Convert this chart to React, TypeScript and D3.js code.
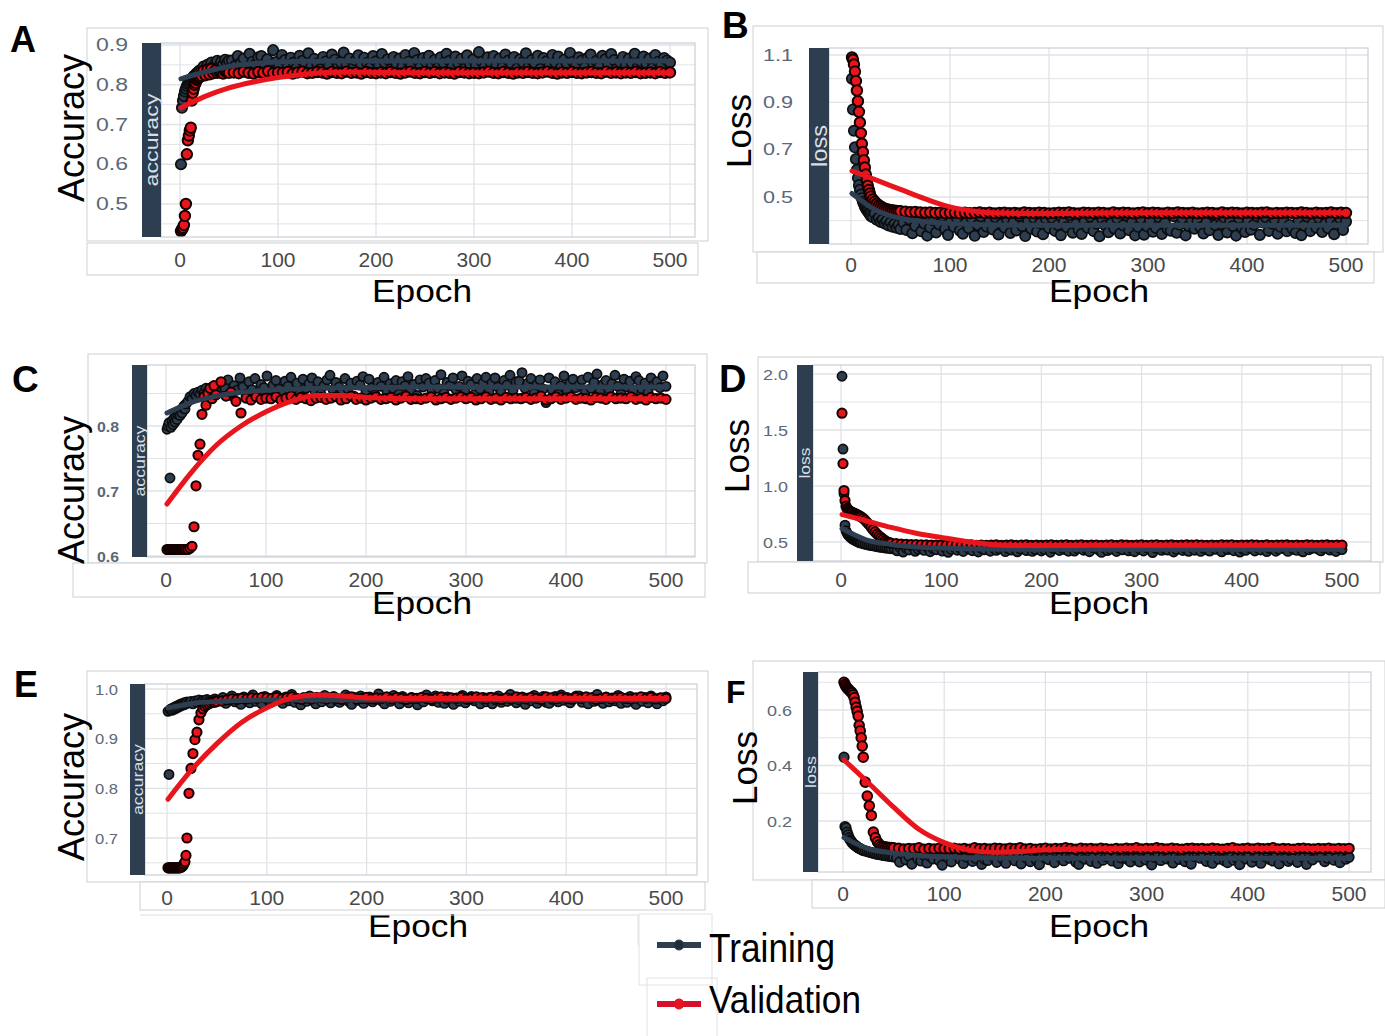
import * as d3 from 'd3'

// epochs: every epoch at first, then every 2nd; later training is logged every 3rd, validation every 5th
const earlyEpochs = [...d3.range(1, 21), ...d3.range(22, 51, 2)]
const trainEpochs = [...earlyEpochs, ...d3.range(53, 501, 3)]
const valEpochs = [...earlyEpochs, ...d3.range(55, 501, 5)]
const trendEpochs = [1, 25, 50, 75, 100, 125, 150, 175, 200, 250, 300, 400, 500]

// ---- A: accuracy ----
const trainAccA = [
  .600, .742, .760, .772, .783, .790, .797, .802, .806, .810, .812, .815, .818, .821, .824, .826, .829, .831, .833, .836,
  .838, .846, .835, .850, .842, .856, .845, .852, .860, .848, .858, .851, .863, .855, .861,
  .861, .847, .872, .855, .866, .843, .878, .858, .851, .869,
  .872, .853, .864, .840, .887, .857, .849, .875, .862, .845,
  .868, .856, .842, .873, .860, .851, .879, .846, .865, .854,
  .839, .870, .859, .848, .876, .863, .844, .857, .881, .852,
  .866, .841, .861, .874, .850, .868, .855, .843, .872, .859,
  .847, .877, .856, .864, .839, .870, .853, .866, .845, .875,
  .858, .849, .880, .862, .844, .867, .857, .873, .851, .863,
  .842, .869, .855, .878, .860, .846, .871, .854, .865, .840,
  .874, .852, .863, .848, .882, .858, .845, .869, .856, .872,
  .850, .866, .843, .876, .861, .853, .870, .841, .864, .857,
  .879, .846, .862, .855, .873, .840, .867, .859, .848, .875,
  .856, .871, .844, .863, .852, .880, .858, .847, .869, .861,
  .843, .868, .876, .851, .860, .845, .873, .864, .850, .877,
  .862, .841, .857, .870, .849, .866, .855, .878, .844, .859,
  .871, .853, .866, .842, .875, .858, .848, .867, .861, .856,
]
const valAccA = [
  .432, .436, .440, .447, .470, .500, .625, .660, .672, .685, .692, .760, .780, .790, .800, .805, .812, .815, .818, .820,
  .822, .835, .824, .838, .826, .840, .829, .836, .830, .833, .831, .828, .834, .832, .830,
  .831, .829, .833, .830, .828, .832, .830, .834, .829, .831,
  .830, .832, .828, .831, .833, .829, .830, .832, .831, .828,
  .832, .830, .829, .833, .830, .831, .828, .832, .830, .829,
  .831, .829, .832, .830, .828, .831, .833, .830, .829, .832,
  .830, .832, .829, .831, .830, .828, .832, .831, .829, .830,
  .829, .831, .833, .830, .829, .832, .830, .828, .831, .830,
  .832, .830, .829, .831, .833, .830, .828, .831, .830, .832,
  .830, .829, .831, .832, .830, .829, .833, .830, .831, .829,
  .831, .830, .832, .829, .830, .831, .829, .832, .830, .831,
]
const trainTrendA = [.815, .832, .846, .853, .857, .859, .860, .860, .860, .860, .860, .860, .860]
const valTrendA = [.742, .770, .792, .807, .818, .826, .831, .832, .831, .830, .830, .830, .830]

// ---- B: loss ----
const trainLossB = [
  1.000, .870, .780, .710, .660, .615, .580, .550, .530, .510, .495, .480, .470, .460, .452, .445, .440, .432, .428, .420,
  .415, .430, .404, .412, .395, .405, .388, .398, .380, .392, .374, .386, .370, .382, .365,
  .392, .361, .405, .347, .378, .416, .355, .388, .337, .371,
  .402, .350, .384, .421, .365, .340, .397, .374, .412, .358,
  .345, .390, .368, .409, .336, .381, .418, .352, .375, .399,
  .363, .414, .342, .386, .371, .404, .348, .393, .359, .420,
  .377, .335, .400, .366, .411, .354, .389, .343, .408, .369,
  .413, .357, .382, .339, .396, .373, .423, .349, .385, .362,
  .344, .398, .370, .417, .356, .387, .334, .406, .379, .351,
  .390, .367, .410, .346, .380, .422, .360, .395, .338, .374,
  .408, .341, .376, .401, .353, .369, .415, .344, .391, .364,
  .358, .419, .349, .383, .407, .338, .378, .403, .366, .397,
  .372, .346, .394, .360, .424, .381, .340, .386, .413, .350,
  .399, .377, .337, .411, .368, .352, .400, .362, .383, .419,
  .340, .392, .415, .357, .388, .405, .345, .374, .399, .355,
  .382, .365, .348, .403, .339, .379, .417, .356, .392, .370,
  .411, .352, .387, .368, .401, .343, .385, .409, .361, .396,
]
const valLossB = [
  1.090, 1.080, 1.060, 1.030, .990, .950, .905, .860, .815, .770, .725, .690, .655, .625, .595, .570, .548, .530, .515, .502,
  .490, .480, .472, .465, .460, .455, .451, .448, .446, .444, .443, .442, .441, .440, .440,
  .438, .436, .437, .435, .434, .435, .433, .434, .432, .433,
  .433, .431, .434, .432, .433, .435, .432, .434, .431, .433,
  .434, .432, .433, .431, .435, .433, .432, .434, .433, .431,
  .432, .434, .433, .435, .432, .431, .434, .433, .432, .434,
  .433, .431, .435, .432, .434, .433, .431, .433, .435, .432,
  .434, .433, .431, .434, .432, .435, .433, .432, .434, .431,
  .432, .434, .433, .431, .435, .432, .434, .433, .431, .434,
  .433, .432, .434, .435, .431, .433, .432, .434, .433, .432,
  .435, .433, .431, .434, .432, .433, .435, .432, .434, .433,
]
const trainTrendB = [.515, .445, .410, .395, .388, .384, .382, .381, .381, .381, .381, .381, .381]
const valTrendB = [.610, .572, .532, .492, .458, .440, .432, .430, .430, .432, .433, .433, .433]

// ---- C: accuracy ----
const trainAccC = [
  .795, .800, .805, .720, .798, .808, .802, .812, .806, .815, .810, .818, .822, .816, .825, .820, .828, .831, .826, .834,
  .838, .845, .842, .850, .847, .852, .849, .855, .851, .858, .853, .856, .860, .854, .858,
  .852, .866, .858, .871, .847, .862, .855, .874, .860, .849,
  .868, .856, .873, .851, .864, .859, .877, .846, .863, .870,
  .857, .848, .869, .861, .875, .853, .866, .850, .872, .858,
  .865, .874, .854, .868, .849, .862, .871, .878, .856, .867,
  .860, .851, .873, .857, .866, .846, .869, .863, .876, .854,
  .872, .859, .848, .867, .861, .875, .853, .865, .858, .870,
  .849, .868, .862, .876, .855, .864, .847, .871, .860, .873,
  .866, .854, .870, .858, .879, .850, .867, .862, .874, .856,
  .861, .877, .852, .869, .864, .848, .873, .857, .866, .875,
  .853, .866, .874, .860, .851, .870, .863, .878, .855, .868,
  .869, .882, .858, .866, .873, .850, .864, .871, .857, .836,
  .874, .856, .868, .849, .862, .877, .855, .866, .872, .859,
  .863, .871, .851, .875, .858, .867, .880, .853, .864, .870,
  .856, .865, .878, .861, .849, .872, .860, .869, .854, .876,
  .870, .857, .866, .852, .874, .863, .868, .859, .877, .861,
]
const valAccC = [
  .610, .610, .610, .610, .610, .610, .610, .610, .610, .610, .610, .610, .610, .610, .610, .610, .610, .610, .610, .610,
  .610, .612, .615, .645, .708, .755, .772, .818, .845, .832, .850, .858, .842, .862, .848,
  .868, .846, .852, .838, .820, .843, .840, .845, .841, .843,
  .842, .845, .840, .843, .846, .841, .844, .842, .839, .843,
  .844, .841, .843, .845, .840, .842, .846, .841, .843, .840,
  .843, .845, .841, .842, .844, .840, .843, .846, .841, .842,
  .841, .843, .845, .840, .842, .844, .841, .843, .845, .842,
  .844, .840, .842, .845, .841, .843, .840, .844, .842, .843,
  .842, .844, .841, .843, .846, .840, .842, .845, .841, .843,
  .845, .841, .843, .842, .840, .844, .843, .841, .845, .842,
  .843, .842, .845, .841, .843, .840, .844, .842, .843, .841,
]
const trainTrendC = [.820, .836, .846, .852, .855, .857, .858, .859, .859, .860, .860, .860, .860]
const valTrendC = [.680, .728, .770, .800, .822, .838, .847, .847, .844, .842, .842, .842, .842]

// ---- D: loss ----
const trainLossD = [
  1.980, 1.330, .930, .650, .600, .580, .565, .555, .545, .538, .530, .524, .520, .515, .510, .505, .500, .497, .494, .490,
  .485, .480, .476, .472, .468, .465, .462, .458, .456, .452, .450, .447, .445, .443, .440,
  .438, .421, .452, .410, .444, .429, .461, .417, .435, .448,
  .425, .457, .413, .440, .431, .464, .419, .446, .408, .433,
  .451, .427, .442, .415, .459, .436, .422, .449, .411, .443,
  .430, .462, .418, .447, .426, .439, .455, .414, .441, .428,
  .445, .412, .437, .458, .423, .450, .416, .432, .463, .420,
  .434, .453, .409, .441, .466, .424, .446, .431, .418, .456,
  .419, .440, .460, .427, .437, .413, .452, .444, .429, .407,
  .448, .423, .436, .462, .415, .443, .430, .457, .421, .439,
  .413, .455, .433, .420, .449, .438, .406, .445, .460, .426,
  .442, .428, .451, .411, .434, .465, .424, .439, .417, .450,
  .427, .461, .416, .444, .430, .419, .454, .435, .447, .412,
  .456, .432, .443, .422, .458, .410, .437, .426, .452, .440,
  .420, .447, .429, .463, .414, .441, .450, .418, .436, .459,
  .439, .416, .455, .433, .425, .448, .412, .457, .431, .444,
  .452, .436, .421, .446, .460, .428, .443, .415, .449, .432,
]
const valLossD = [
  1.650, 1.200, .960, .870, .820, .800, .790, .782, .775, .770, .765, .760, .757, .752, .748, .744, .740, .735, .730, .725,
  .712, .695, .675, .655, .632, .610, .590, .570, .555, .540, .525, .512, .502, .495, .490,
  .486, .482, .479, .477, .476, .474, .474, .473, .472, .473,
  .471, .474, .472, .470, .473, .475, .471, .473, .470, .472,
  .474, .471, .473, .475, .470, .472, .474, .471, .473, .470,
  .472, .474, .470, .473, .475, .471, .472, .474, .470, .473,
  .473, .470, .472, .474, .471, .475, .473, .470, .472, .474,
  .471, .473, .475, .470, .472, .474, .471, .473, .475, .472,
  .474, .472, .470, .473, .471, .474, .472, .475, .470, .473,
  .472, .475, .473, .471, .474, .470, .473, .472, .474, .471,
  .473, .471, .474, .472, .470, .473, .475, .471, .473, .472,
]
const trainTrendD = [.620, .520, .478, .456, .446, .440, .437, .436, .436, .436, .436, .436, .436]
const valTrendD = [.745, .690, .630, .578, .540, .505, .478, .468, .468, .470, .472, .472, .472]

// ---- E: accuracy ----
const trainAccE = [
  .955, .828, .958, .960, .957, .962, .959, .964, .961, .966, .963, .968, .965, .970, .967, .971, .968, .973, .970, .974,
  .972, .975, .970, .976, .973, .978, .974, .977, .975, .979, .976, .974, .978, .980, .977,
  .976, .983, .971, .979, .986, .974, .981, .969, .984, .977,
  .972, .988, .975, .980, .970, .985, .978, .973, .982, .987,
  .979, .971, .984, .976, .989, .973, .980, .968, .983, .975,
  .986, .977, .970, .982, .974, .987, .979, .972, .985, .976,
  .973, .981, .988, .975, .969, .983, .977, .986, .971, .980,
  .984, .974, .979, .990, .976, .970, .982, .975, .987, .978,
  .970, .985, .977, .972, .983, .979, .968, .981, .974, .988,
  .981, .976, .986, .973, .980, .971, .984, .977, .969, .982,
  .975, .987, .972, .979, .985, .976, .982, .970, .983, .974,
  .983, .970, .978, .986, .973, .981, .975, .989, .977, .972,
  .978, .984, .969, .982, .976, .987, .971, .980, .985, .973,
  .971, .979, .985, .974, .988, .977, .983, .972, .979, .986,
  .986, .973, .980, .970, .982, .975, .989, .976, .971, .984,
  .974, .982, .976, .987, .971, .980, .973, .985, .978, .969,
  .980, .975, .983, .972, .986, .978, .970, .982, .976, .984,
]
const valAccE = [
  .640, .640, .640, .640, .640, .640, .640, .640, .640, .640, .640, .640, .640, .641, .642, .644, .648, .652, .665, .700,
  .790, .840, .870, .898, .913, .938, .952, .960, .965, .968, .970, .972, .974, .973, .975,
  .976, .978, .980, .979, .981, .980, .982, .981, .983, .982,
  .981, .983, .980, .982, .984, .981, .979, .982, .980, .983,
  .982, .980, .983, .981, .979, .982, .984, .980, .981, .983,
  .980, .982, .981, .984, .980, .983, .981, .979, .982, .981,
  .983, .981, .979, .982, .984, .980, .982, .981, .983, .980,
  .981, .984, .982, .980, .983, .981, .979, .982, .980, .984,
  .982, .980, .983, .981, .979, .984, .982, .980, .983, .981,
  .980, .983, .981, .984, .982, .979, .981, .983, .980, .982,
  .983, .981, .980, .982, .984, .981, .983, .980, .982, .981,
]
const trainTrendE = [.962, .971, .975, .977, .978, .978, .978, .978, .978, .978, .978, .978, .978]
const valTrendE = [.778, .838, .890, .933, .962, .982, .988, .986, .982, .981, .981, .981, .981]

// ---- F: loss ----
const trainLossF = [
  .430, .180, .175, .160, .150, .140, .132, .128, .122, .118, .115, .112, .110, .106, .104, .102, .100, .098, .096, .094,
  .092, .090, .088, .086, .084, .082, .080, .079, .078, .076, .075, .074, .073, .072, .071,
  .068, .052, .081, .060, .074, .045, .089, .063, .056, .077,
  .049, .072, .064, .086, .058, .041, .079, .067, .053, .083,
  .075, .061, .047, .070, .092, .055, .066, .080, .044, .062,
  .058, .085, .069, .051, .076, .063, .048, .088, .071, .057,
  .082, .046, .073, .065, .054, .090, .060, .043, .078, .067,
  .061, .079, .050, .084, .069, .057, .074, .066, .087, .052,
  .044, .070, .063, .091, .055, .076, .048, .081, .059, .072,
  .078, .056, .086, .047, .067, .083, .062, .053, .075, .065,
  .053, .088, .060, .072, .042, .069, .085, .058, .080, .064,
  .071, .049, .077, .062, .089, .054, .067, .045, .073, .086,
  .066, .082, .055, .070, .048, .079, .063, .092, .057, .050,
  .087, .059, .068, .043, .075, .064, .084, .052, .069, .078,
  .048, .073, .090, .061, .056, .081, .046, .074, .065, .055,
  .062, .085, .051, .077, .068, .044, .079, .060, .088, .071,
  .076, .054, .066, .083, .059, .072, .050, .086, .063, .069,
]
const valLossF = [
  .700, .692, .685, .680, .676, .672, .668, .665, .662, .655, .645, .628, .610, .595, .578, .545, .525, .500, .470, .430,
  .340, .290, .255, .220, .160, .140, .125, .115, .110, .108, .106, .105, .104, .104, .103,
  .102, .099, .101, .100, .103, .098, .101, .099, .102, .100,
  .100, .102, .099, .101, .098, .103, .100, .101, .099, .102,
  .101, .099, .102, .100, .103, .099, .101, .098, .100, .102,
  .099, .101, .100, .103, .101, .098, .102, .100, .101, .099,
  .102, .100, .098, .101, .099, .102, .100, .103, .099, .101,
  .100, .103, .101, .099, .102, .100, .098, .101, .102, .100,
  .101, .099, .102, .100, .098, .101, .103, .099, .100, .102,
  .099, .102, .100, .101, .103, .099, .101, .100, .098, .101,
  .102, .100, .099, .101, .100, .102, .099, .101, .100, .101,
]
const trainTrendF = [.140, .100, .085, .076, .071, .068, .067, .066, .066, .066, .066, .066, .066]
const valTrendF = [.420, .338, .250, .170, .122, .095, .087, .090, .096, .100, .101, .101, .101]

const xTicks = [0, 100, 200, 300, 400, 500]

const NAVY = '#2c3e50'
const RED = '#e8161c'
const BOX = '#cfcfcf'
const GRID = '#dfe2e7'
const SANS = '"Liberation Sans", Arial, sans-serif'

// layout of each sub-figure (pixel boxes measured from the composite)
const panels = [
  {
    letter: 'A', letterPos: [10, 52, 36], outer: [87, 28, 708, 241], lower: [87, 243, 698, 275],
    strip: [142, 161], px: [161, 695], py: [43, 237], x0: 180, x500: 670,
    yd: [0.5, 0.9], yr: [204, 45], ticks: [0.5, 0.6, 0.7, 0.8, 0.9], minor: [0.45, 0.55, 0.65, 0.75, 0.85],
    yt: { size: 18, len: 32, right: 128, weight: 400 }, xtBase: 267, r: 5.2,
    title: 'Accuracy', titlePos: [84, 128, 36], epochPos: [422, 302], stripLabel: 'accuracy', stripText: [19, 93],
    train: trainAccA, val: valAccA, trainTrend: trainTrendA, valTrend: valTrendA,
  },
  {
    letter: 'B', letterPos: [722, 38, 37], outer: [753, 26, 1383, 252], lower: [757, 252, 1374, 283],
    strip: [809, 829], px: [829, 1368], py: [48, 244], x0: 851, x500: 1346,
    yd: [0.5, 1.1], yr: [197, 55], ticks: [0.5, 0.7, 0.9, 1.1], minor: [0.4, 0.6, 0.8, 1.0],
    yt: { size: 17, len: 30, right: 793, weight: 400 }, xtBase: 272, r: 5.2,
    title: 'Loss', titlePos: [751, 131, 35], epochPos: [1099, 302], stripLabel: 'loss', stripText: [22, 42],
    train: trainLossB, val: valLossB, trainTrend: trainTrendB, valTrend: valTrendB,
  },
  {
    letter: 'C', letterPos: [12, 392, 37], outer: [88, 354, 707, 563], lower: [73, 563, 705, 597],
    strip: [132, 147], px: [147, 695], py: [365, 557], x0: 166, x500: 666,
    yd: [0.6, 0.8], yr: [556, 426], ticks: [0.6, 0.7, 0.8], minor: [0.65, 0.75, 0.85],
    yt: { size: 15, len: 22, right: 119, weight: 700 }, xtBase: 587, r: 4.6,
    title: 'Accuracy', titlePos: [84, 490, 36], epochPos: [422, 614], stripLabel: 'accuracy', stripText: [14, 71],
    train: trainAccC, val: valAccC, trainTrend: trainTrendC, valTrend: valTrendC,
  },
  {
    letter: 'D', letterPos: [719, 392, 38], outer: [758, 357, 1383, 562], lower: [748, 562, 1380, 593],
    strip: [797, 813], px: [813, 1371], py: [365, 561], x0: 841, x500: 1342,
    yd: [0.5, 2.0], yr: [542, 374], ticks: [0.5, 1.0, 1.5, 2.0], minor: [0.75, 1.25, 1.75],
    yt: { size: 15, len: 25, right: 788, weight: 400 }, xtBase: 587, r: 4.6,
    title: 'Loss', titlePos: [749, 456, 35], epochPos: [1099, 614], stripLabel: 'loss', stripText: [14, 31],
    train: trainLossD, val: valLossD, trainTrend: trainTrendD, valTrend: valTrendD,
  },
  {
    letter: 'E', letterPos: [14, 697, 36], outer: [87, 671, 708, 882], lower: [140, 882, 705, 910],
    strip: [130, 145], px: [145, 697], py: [684, 875], x0: 167, x500: 666,
    yd: [0.7, 1.0], yr: [838, 689], ticks: [0.7, 0.8, 0.9, 1.0], minor: [0.65, 0.75, 0.85, 0.95],
    yt: { size: 15, len: 23, right: 118, weight: 400 }, xtBase: 905, r: 4.6,
    title: 'Accuracy', titlePos: [84, 787, 36], epochPos: [418, 937], stripLabel: 'accuracy', stripText: [14, 71],
    train: trainAccE, val: valAccE, trainTrend: trainTrendE, valTrend: valTrendE,
  },
  {
    letter: 'F', letterPos: [726, 703, 32], outer: [753, 661, 1385, 880], lower: [812, 880, 1385, 908],
    strip: [803, 818], px: [818, 1371], py: [672, 872], x0: 843, x500: 1349,
    yd: [0.2, 0.6], yr: [821, 710], ticks: [0.2, 0.4, 0.6], minor: [0.1, 0.3, 0.5, 0.7],
    yt: { size: 15, len: 25, right: 792, weight: 400 }, xtBase: 901, r: 4.8,
    title: 'Loss', titlePos: [757, 768, 35], epochPos: [1099, 937], stripLabel: 'loss', stripText: [14, 32],
    train: trainLossF, val: valLossF, trainTrend: trainTrendF, valTrend: valTrendF,
  },
]

const fmt = d3.format('.1f')

function Panel({ p }: { p: any }) {
  const x = d3.scaleLinear().domain([0, 500]).range([p.x0, p.x500])
  const y = d3.scaleLinear().domain(p.yd).range(p.yr)
  const [pl, pr] = p.px
  const [pt, pb] = p.py
  const trend = d3
    .line<number>()
    .x((_, i) => x(trendEpochs[i]))
    .y((v) => y(v))
    .curve(d3.curveMonotoneX)
  const clipId = `clip-${p.letter}`
  const sx = (p.strip[0] + p.strip[1]) / 2
  const cy = (pt + pb) / 2
  const box = (b: number[]) => ({ x: b[0], y: b[1], width: b[2] - b[0], height: b[3] - b[1] })

  return (
    <g>
      <rect {...box(p.outer)} fill="#fff" stroke={BOX} />
      <rect {...box(p.lower)} fill="#fff" stroke={BOX} />
      <clipPath id={clipId}>
        <rect x={pl} y={pt} width={pr - pl} height={pb - pt} />
      </clipPath>

      {/* gridlines */}
      {p.minor.map((v: number) => (
        <line key={'m' + v} x1={pl} x2={pr} y1={y(v)} y2={y(v)} stroke={GRID} strokeWidth={1} />
      ))}
      {p.ticks.map((v: number) => (
        <line key={'g' + v} x1={pl} x2={pr} y1={y(v)} y2={y(v)} stroke={GRID} strokeWidth={1.3} />
      ))}
      {xTicks.map((t) => (
        <line key={'v' + t} x1={x(t)} x2={x(t)} y1={pt} y2={pb} stroke={GRID} strokeWidth={1.3} />
      ))}

      {/* points, then loess trends */}
      <g clipPath={`url(#${clipId})`}>
        {p.train.map((v: number, i: number) => (
          <circle key={'t' + i} cx={x(trainEpochs[i])} cy={y(v)} r={p.r} fill={NAVY} stroke="#0d0d0d" strokeWidth={1.7} />
        ))}
        {p.val.map((v: number, i: number) => (
          <circle key={'s' + i} cx={x(valEpochs[i])} cy={y(v)} r={p.r} fill={RED} stroke="#140000" strokeWidth={2} />
        ))}
        <path d={trend(p.trainTrend) || ''} fill="none" stroke={NAVY} strokeWidth={5} strokeLinecap="round" />
        <path d={trend(p.valTrend) || ''} fill="none" stroke={RED} strokeWidth={5} strokeLinecap="round" />
      </g>
      <rect x={pl} y={pt} width={pr - pl} height={pb - pt} fill="none" stroke="#c9ced6" strokeWidth={1.2} />

      {/* facet strip on the left */}
      <rect x={p.strip[0]} y={pt} width={p.strip[1] - p.strip[0]} height={pb - pt} fill={NAVY} />
      <text
        transform={`translate(${sx},${cy}) rotate(-90)`}
        textAnchor="middle"
        dominantBaseline="central"
        fontFamily={SANS}
        fontSize={p.stripText[0]}
        textLength={p.stripText[1]}
        lengthAdjust="spacingAndGlyphs"
        fill="#d9dee4"
      >
        {p.stripLabel}
      </text>

      {/* tick labels */}
      {p.ticks.map((v: number) => (
        <text
          key={'yl' + v}
          x={p.yt.right}
          y={y(v)}
          textAnchor="end"
          dominantBaseline="central"
          fontFamily={SANS}
          fontSize={p.yt.size}
          fontWeight={p.yt.weight}
          textLength={p.yt.len}
          lengthAdjust="spacingAndGlyphs"
          fill="#5a6878"
        >
          {fmt(v)}
        </text>
      ))}
      {xTicks.map((t) => (
        <text key={'xl' + t} x={x(t)} y={p.xtBase} textAnchor="middle" fontFamily={SANS} fontSize={21} fill="#4a4a4a">
          {t}
        </text>
      ))}

      {/* axis titles and panel letter */}
      <text
        transform={`translate(${p.titlePos[0]},${p.titlePos[1]}) rotate(-90)`}
        textAnchor="middle"
        fontFamily={SANS}
        fontSize={p.titlePos[2]}
        fill="#000"
      >
        {p.title}
      </text>
      <text
        x={p.epochPos[0]}
        y={p.epochPos[1]}
        textAnchor="middle"
        fontFamily={SANS}
        fontSize={32}
        textLength={100}
        lengthAdjust="spacingAndGlyphs"
        fill="#000"
      >
        Epoch
      </text>
      <text x={p.letterPos[0]} y={p.letterPos[1]} fontFamily={SANS} fontWeight={700} fontSize={p.letterPos[2]} fill="#000">
        {p.letter}
      </text>
    </g>
  )
}

const legendItems = [
  { label: 'Training', color: NAVY, dot: '#1f2d3a', y: 945, base: 962, size: 40, len: 126 },
  { label: 'Validation', color: '#d6102a', dot: '#e8161c', y: 1004, base: 1013, size: 39, len: 152 },
]

export default function App() {
  return (
    <svg width={1385} height={1036} style={{ position: 'absolute', left: 0, top: 0, background: '#fff' }}>
      <rect x={0} y={0} width={1385} height={1036} fill="#fff" />
      {panels.map((p) => (
        <Panel key={p.letter} p={p} />
      ))}
      <path d="M140,915 H638 V945" fill="none" stroke="#dedede" />
      <rect x={639} y={914} width={73} height={71} fill="none" stroke="#e2e2e2" />
      <rect x={647} y={978} width={70} height={70} fill="none" stroke="#e2e2e2" />
      {legendItems.map((d) => (
        <g key={d.label}>
          <line x1={657} x2={701} y1={d.y} y2={d.y} stroke={d.color} strokeWidth={6} />
          <circle cx={679} cy={d.y} r={5} fill={d.dot} stroke={d.color} strokeWidth={1} />
          <text x={709} y={d.base} fontFamily={SANS} fontSize={d.size} textLength={d.len} lengthAdjust="spacingAndGlyphs" fill="#000">
            {d.label}
          </text>
        </g>
      ))}
    </svg>
  )
}
